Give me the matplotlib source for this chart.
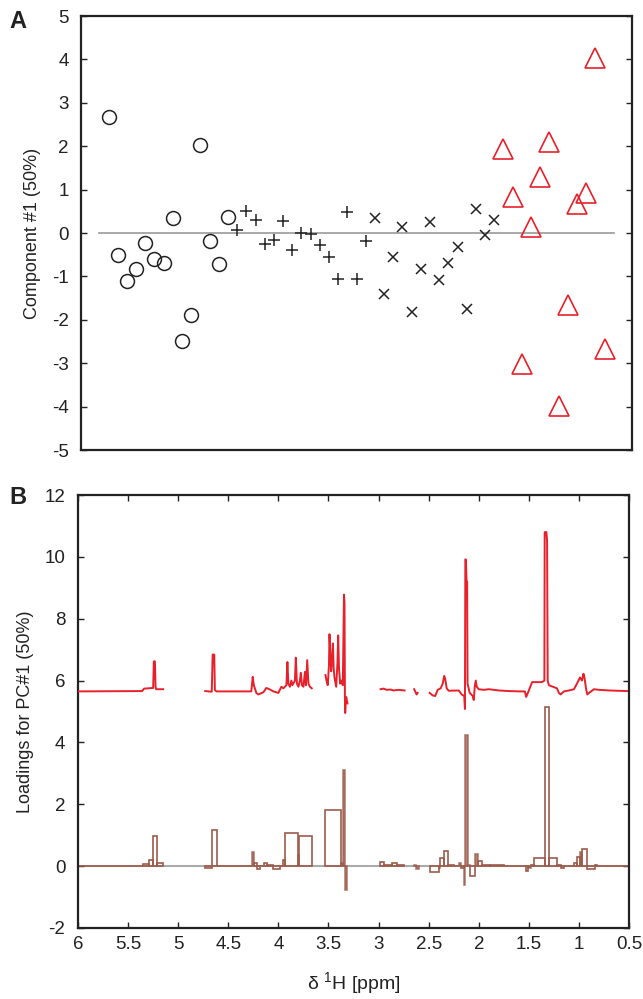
import numpy as np
import matplotlib
matplotlib.use("Agg")
import matplotlib.pyplot as plt

plt.rcParams['font.family'] = ['Liberation Sans', 'DejaVu Sans']
plt.rcParams['mathtext.default'] = 'regular'
plt.rcParams['axes.unicode_minus'] = False

# ---- panel A: component #1 scores, one value per sample
circ_vals = [2.67, -0.51, -1.1, -0.82, -0.24, -0.59, -0.69, 0.35, -2.48, -1.89, 2.03, -0.19, -0.72, 0.38]
plus_vals = [0.06, 0.52, 0.31, -0.25, -0.15, 0.28, -0.38, 0.0, -0.02, -0.27, -0.54, -1.06, 0.48, -1.06, -0.19]
cross_vals = [0.35, -1.41, -0.55, 0.15, -1.82, -0.83, 0.26, -1.09, -0.69, -0.33, -1.74, 0.55, -0.05, 0.31]
tri_vals = [1.93, 0.82, -3.02, 0.13, 1.3, 2.1, -3.98, -1.65, 0.68, 0.93, 4.03, -2.68]

# ---- panel B: spectrum (offset) and bucketed loadings
red_ppm = [6.0, 5.36, 5.34, 5.25, 5.243, 5.232, 5.226, 5.22, 5.15, np.nan,
           4.73, 4.665, 4.656, 4.64, 4.634, 4.62, 4.27, 4.256, 4.245, 4.22, 4.2, 4.15, 4.12, 4.09, 4.05,
           4.0, 3.97, 3.95, 3.92, 3.91, 3.9, 3.885, 3.87, 3.86, 3.835, 3.826, 3.815, 3.8, 3.785, 3.776,
           3.765, 3.75, 3.735, 3.725, 3.712, 3.7, 3.685, 3.667, np.nan,
           3.53, 3.52, 3.507, 3.495, 3.49, 3.482, 3.473, 3.462, 3.456, 3.448, 3.44, 3.423, 3.41, 3.403,
           3.395, 3.383, 3.37, 3.357, 3.35, 3.345, 3.34, 3.336, 3.333, 3.328, 3.323, 3.31, np.nan,
           2.98, 2.95, 2.92, 2.88, 2.85, 2.8, 2.74, np.nan,
           2.645, 2.635, 2.62, 2.61, np.nan,
           2.49, 2.46, 2.435, 2.41, 2.38, 2.36, 2.345, 2.335, 2.32, 2.3, 2.2, 2.17, 2.145, 2.138,
           2.134, 2.128, 2.122, 2.116, 2.112, 2.09, 2.06, 2.05, 2.04, 2.03, 2.02, 2.0, 1.95, 1.9, 1.8,
           1.7, 1.6, 1.54, 1.527, 1.51, 1.48, 1.467, 1.42, 1.37, 1.345, 1.342, 1.325, 1.318, 1.312,
           1.3, 1.26, 1.22, 1.2, 1.183, 1.15, 1.1, 1.05, 1.02, 0.99, 0.97, 0.955, 0.945, 0.93, 0.917,
           0.9, 0.85, 0.8, 0.7, 0.6, 0.52]
red_val = [5.65, 5.66, 5.74, 5.76, 6.62, 6.62, 5.8, 5.72, 5.72, np.nan,
           5.66, 5.64, 6.84, 6.84, 5.7, 5.65, 5.65, 6.12, 5.85, 5.6, 5.55, 5.62, 5.76, 5.72, 5.65,
           5.6, 5.8, 5.75, 5.85, 6.6, 5.9, 5.8, 6.0, 5.85, 6.0, 6.74, 5.9, 5.8, 6.0, 6.25,
           5.85, 5.8, 6.28, 5.85, 6.66, 5.9, 5.8, 5.75, np.nan,
           6.18, 6.0, 5.85, 6.5, 7.5, 6.9, 6.3, 6.8, 7.2, 6.4, 6.1, 5.8, 6.6, 7.46,
           6.4, 5.9, 6.0, 5.85, 7.5, 8.78, 8.5, 5.5, 4.95, 5.3, 5.47, 5.26, np.nan,
           5.72, 5.74, 5.7, 5.71, 5.68, 5.7, 5.68, np.nan,
           5.72, 5.65, 5.55, 5.6, np.nan,
           5.6, 5.52, 5.5, 5.7, 5.75, 5.9, 6.15, 6.05, 5.75, 5.67, 5.68, 5.55, 5.5, 5.08,
           9.92, 9.9, 9.2, 9.2, 5.9, 5.6, 5.5, 5.37, 5.8, 6.0, 5.8, 5.72, 5.7, 5.72, 5.68,
           5.66, 5.65, 5.65, 5.47, 5.6, 5.85, 5.95, 5.95, 5.95, 6.0, 10.8, 10.8, 10.5, 6.0,
           5.85, 5.8, 5.75, 5.6, 5.55, 5.65, 5.68, 5.72, 5.9, 6.1, 6.0, 6.22, 6.1, 5.75, 5.55,
           5.6, 5.72, 5.7, 5.68, 5.67, 5.66]

bin_hi = [6.0, 5.35, 5.29, 5.25, 5.21,
          4.733, 4.667, 4.617, 4.267, 4.243, 4.217, 4.183, 4.143, 4.117, 4.05, 3.983, 3.957, 3.93, 3.803, 3.79,
          3.533, 3.377, 3.36, 3.34,
          2.983, 2.95, 2.867, 2.817, 2.643, 2.623,
          2.49, 2.40, 2.383, 2.35, 2.31, 2.243, 2.20, 2.177, 2.15, 2.133, 2.11, 2.09, 2.033, 2.01, 1.967,
          1.883, 1.75, 1.633, 1.533, 1.507, 1.483, 1.45, 1.343, 1.30, 1.217, 1.183, 1.15, 1.05, 1.017,
          0.99, 0.967, 0.923, 0.843, 0.817]
bin_lo = [5.35, 5.29, 5.25, 5.21, 5.15,
          4.667, 4.617, 4.267, 4.243, 4.217, 4.183, 4.143, 4.117, 4.05, 3.983, 3.957, 3.93, 3.803, 3.79, 3.667,
          3.377, 3.36, 3.34, 3.32,
          2.95, 2.867, 2.817, 2.743, 2.623, 2.60,
          2.40, 2.383, 2.35, 2.31, 2.243, 2.20, 2.177, 2.15, 2.133, 2.11, 2.09, 2.033, 2.01, 1.967, 1.883,
          1.75, 1.633, 1.533, 1.507, 1.483, 1.45, 1.343, 1.30, 1.217, 1.183, 1.15, 1.05, 1.017, 0.99,
          0.967, 0.923, 0.843, 0.817, 0.5]
bin_h = [0.0, 0.06, 0.19, 0.97, 0.1,
         -0.05, 1.16, 0.0, 0.46, 0.1, -0.08, 0.02, 0.1, 0.05, -0.08, 0.02, 0.2, 1.07, 0.37, 0.97,
         1.82, 0.1, 3.1, -0.78,
         0.14, 0.05, 0.1, 0.05, 0.05, -0.1,
         -0.2, -0.05, 0.25, 0.5, 0.05, 0.02, 0.1, -0.05, -0.6, 4.23, 0.05, -0.32, 0.4, 0.15, 0.05,
         0.03, 0.0, 0.02, -0.15, -0.05, 0.05, 0.25, 5.15, 0.25, 0.05, -0.05, 0.02, 0.1, 0.3,
         0.45, 0.55, -0.1, 0.05, 0.02]

red = '#e8202a'
brown = '#9c5b4b'
ink = '#222222'

fig = plt.figure(figsize=(6.43, 9.99), dpi=100)
axA = fig.add_axes([0.126, 0.5495, 0.857, 0.4344])
axB = fig.add_axes([0.1213, 0.0711, 0.857, 0.4334])

# panel A
n1, n2, n3 = len(circ_vals), len(plus_vals), len(cross_vals)
xc = np.arange(1, n1 + 1)
xp = np.arange(n1 + 1, n1 + n2 + 1)
xx = np.arange(n1 + n2 + 1, n1 + n2 + n3 + 1)
xt = np.arange(n1 + n2 + n3 + 1, n1 + n2 + n3 + len(tri_vals) + 1)
axA.plot([0, xt[-1] + 1], [0, 0], color='#999999', lw=1.2, zorder=1)
axA.plot(xc, circ_vals, 'o', ms=10, mfc='none', mec=ink, mew=1.1, zorder=3)
axA.plot(xp, plus_vals, '+', ms=9, mec=ink, mew=1.1, zorder=3)
axA.plot(xx, cross_vals, 'x', ms=7.5, mec=ink, mew=1.1, zorder=3)
axA.plot(xt, tri_vals, '^', ms=14, mfc='none', mec=red, mew=1.2, zorder=3)
axA.set_xlim(-2, 58)
axA.set_ylim(-5, 5)
axA.set_xticks([])
axA.set_yticks(range(-5, 6))
axA.set_ylabel('Component #1 (50%)', fontsize=13, color=ink, labelpad=8)
axA.tick_params(axis='y', direction='in', right=True, length=4, width=1, labelsize=13.5, colors=ink, pad=9)

# panel B
axB.axhline(0, color='#aaaaaa', lw=1.5, zorder=1)
axB.plot(red_ppm, red_val, color=red, lw=1.4, zorder=3)
lo = np.array(bin_lo)
hi = np.array(bin_hi)
hb = np.array(bin_h)
narrow = (hi - lo) < 0.025
axB.bar(lo[~narrow], hb[~narrow], width=(hi - lo)[~narrow], align='edge', fill=False,
        edgecolor=brown, lw=1.2, zorder=2)
axB.bar(lo[narrow], hb[narrow], width=(hi - lo)[narrow], align='edge', color=brown, alpha=0.75,
        edgecolor=brown, lw=1.2, zorder=2)
axB.set_xlim(6, 0.5)
axB.set_ylim(-2, 12)
axB.set_xticks([6, 5.5, 5, 4.5, 4, 3.5, 3, 2.5, 2, 1.5, 1, 0.5])
axB.set_xticklabels(['6', '5.5', '5', '4.5', '4', '3.5', '3', '2.5', '2', '1.5', '1', '0.5'])
axB.set_yticks(range(-2, 13, 2))
axB.set_ylabel('Loadings for PC#1 (50%)', fontsize=13, color=ink, labelpad=8)
axB.set_xlabel('δ $^{1}$H [ppm]', fontsize=14, color=ink, labelpad=12)
axB.tick_params(direction='in', right=True, top=True, length=4, width=1, labelsize=13.5, colors=ink)
axB.tick_params(axis='y', pad=9)
axB.tick_params(axis='x', pad=6)

for ax in (axA, axB):
    for s in ax.spines.values():
        s.set_linewidth(1.6)
        s.set_color(ink)

fig.text(0.015, 0.978, 'A', fontsize=17, fontweight='bold', color=ink, va='center')
fig.text(0.015, 0.502, 'B', fontsize=17, fontweight='bold', color=ink, va='center')

fig.savefig('out.png', dpi=100)
